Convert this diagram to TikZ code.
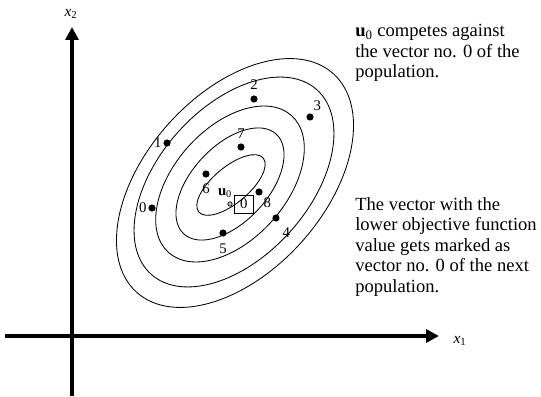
\documentclass[tikz,border=0pt]{standalone}
\usepackage{fontspec}
\setmainfont{Liberation Serif}
\usetikzlibrary{arrows.meta,positioning}

\begin{document}
\begin{tikzpicture}[
  x=0.025cm, y=0.025cm,
  axis/.style={line width=2.3pt, -{Triangle[length=3.2mm, width=3.2mm]}},
  contour/.style={line width=0.6pt},
  dot/.style={circle, fill=black, inner sep=0pt, minimum size=0.18cm},
  num/.style={inner sep=0pt, font=\fontsize{10.5}{12}\selectfont},
  note/.style={anchor=north west, inner sep=0pt, align=left, font=\fontsize{13.2}{14.6}\selectfont},
  axlbl/.style={inner sep=0pt, font=\fontsize{11}{12}\selectfont}
]
\useasboundingbox (-72,-60) rectangle (469,336);

% axes
\coordinate (xs) at (-67,0);
\coordinate (xe) at (367,0);
\coordinate (ys) at (0,-60);
\coordinate (ye) at (0,309);
\draw[axis] (xs) -- (xe);
\draw[axis] (ys) -- (ye);
\node[axlbl] (x1) at (388,-5) {\textit{x}\textsubscript{1}};
\node[axlbl] (x2) at (-1,322) {\textit{x}\textsubscript{2}};

% contour lines of the objective function
\foreach \cx/\cy/\a/\b/\r in {163/153/147/89/48, 162/154/124/75/48, 158/152/92/56/48, 158/152/68/38/47, 159/151/42/18/40}
  \draw[contour, rotate around={\r:(\cx,\cy)}] (\cx,\cy) ellipse ({\a} and {\b});

% population vectors
\node[dot] (d0) at (80,128) {};
\node[dot] (d1) at (95,193) {};
\node[dot] (d2) at (182,237) {};
\node[dot] (d3) at (238,219) {};
\node[dot] (d4) at (204,118) {};
\node[dot] (d5) at (151,103) {};
\node[dot] (d6) at (134,162) {};
\node[dot] (d7) at (169,189) {};
\node[dot] (d8) at (187,144) {};

\node[num, left=1pt of d0] (n0) {0};
\node[num, left=1pt of d1] (n1) {1};
\node[num, above=4pt of d2] (n2) {2};
\node[num, above right=2.5pt and 0.5pt of d3] (n3) {3};
\node[num, below right=5pt and 2.5pt of d4] (n4) {4};
\node[num, below=4.5pt of d5] (n5) {5};
\node[num, below=4pt of d6] (n6) {6};
\node[num, above=3pt of d7] (n7) {7};
\node[num, below right=1.8pt and 1.2pt of d8] (n8) {8};

% trial vector and its opponent
\node[circle, draw, fill=gray!50, line width=0.5pt, inner sep=0pt, minimum size=0.11cm] (uz) at (158,132) {};
\node[num, above=2.5pt of uz, xshift=-3.5pt] (lu) {\textbf{u}\textsubscript{0}};
\node[num, draw, line width=0.6pt, minimum width=0.475cm, minimum height=0.45cm, right=1pt of uz] (best) {0};

% notes
\node[note] (top) at (283,312) {\textbf{u}\textsubscript{0} competes against\\the vector no. 0 of the\\population.};
\node[note] (bottom) at (283,139) {The vector with the\\lower objective function\\value gets marked as\\vector no. 0 of the next\\population.};
\end{tikzpicture}
\end{document}
